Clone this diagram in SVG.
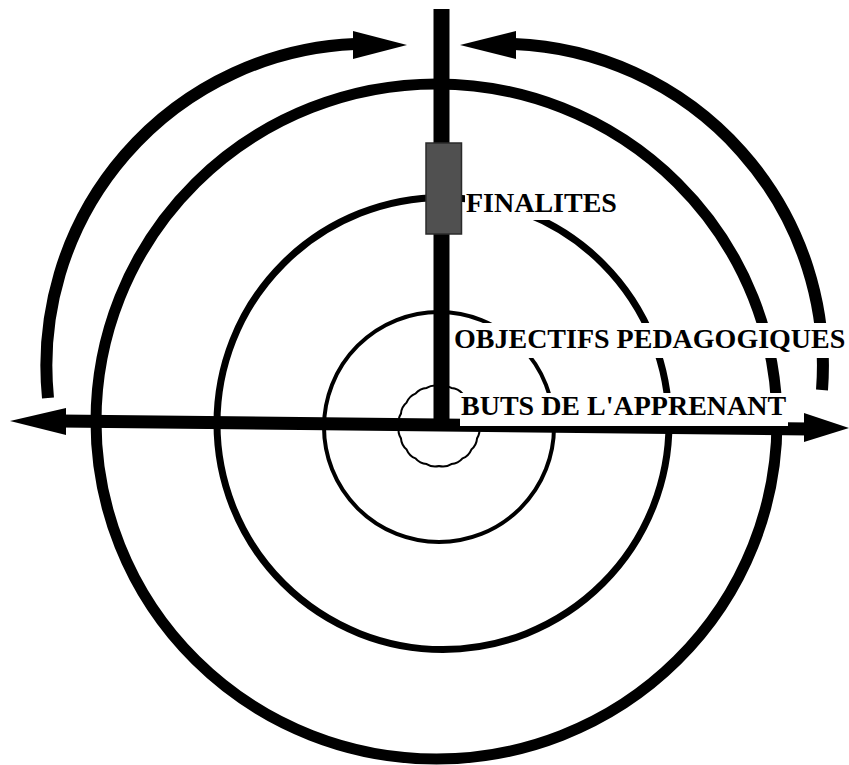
<svg xmlns="http://www.w3.org/2000/svg" width="849" height="765" viewBox="0 0 849 765">
<style>
.ring{fill:none;stroke:#000}
.shaft{fill:none;stroke:#000;stroke-width:12}
.head{fill:#000}
.lbl{font-family:"Liberation Serif","Times New Roman",serif;font-weight:bold;font-size:28px;fill:#000}
.bg{fill:#fff}
</style>
<rect width="849" height="765" fill="#fff"/>
<g id="rings">
<ellipse id="ring-outer" class="ring" cx="436.5" cy="421.5" rx="340.5" ry="337.5" stroke-width="11"/>
<circle id="ring-2" class="ring" cx="443" cy="423.5" r="226" stroke-width="7"/>
<circle id="ring-3" class="ring" cx="439" cy="427" r="115" stroke-width="4"/>
<path id="ring-inner" class="ring" stroke-width="2" d="M479 426 A16 16 0 0 1 477.04 438.36 A16 16 0 0 1 471.36 449.51 A16 16 0 0 1 462.51 458.36 A16 16 0 0 1 451.36 464.04 A16 16 0 0 1 439 466 A16 16 0 0 1 426.64 464.04 A16 16 0 0 1 415.49 458.36 A16 16 0 0 1 406.64 449.51 A16 16 0 0 1 400.96 438.36 A16 16 0 0 1 399 426 A16 16 0 0 1 400.96 413.64 A16 16 0 0 1 406.64 402.49 A16 16 0 0 1 415.49 393.64 A16 16 0 0 1 426.64 387.96 A16 16 0 0 1 439 386 A16 16 0 0 1 451.36 387.96 A16 16 0 0 1 462.51 393.64 A16 16 0 0 1 471.36 402.49 A16 16 0 0 1 477.04 413.64 A16 16 0 0 1 479 426 Z"/>
</g>
<g id="connectors">
<path class="shaft" d="M48 398 A322 322 0 0 1 355 44"/>
<polygon class="head" points="407,45 353,31 353,59"/>
<path class="shaft" d="M822 390 A322 322 0 0 0 514 44"/>
<polygon class="head" points="460,45 516,31 516,59"/>
<line x1="441.5" y1="9" x2="441.5" y2="424" stroke="#000" stroke-width="16"/>
<line x1="60" y1="421" x2="810" y2="429" stroke="#000" stroke-width="13"/>
<polygon class="head" points="10,421 66,408 66,435"/>
<polygon class="head" points="849,428 804,413 804,442"/>
</g>
<g id="finalites-box">
<rect x="426" y="143" width="35.5" height="91" fill="#505050" stroke="#2a2a2a" stroke-width="1.5"/>
</g>
<g id="label-finalites">
<rect class="bg" x="465" y="188" width="152" height="32"/>
<text class="lbl" x="466" y="212">FINALITES</text>
</g>
<g id="label-objectifs">
<rect class="bg" x="452" y="323" width="394" height="35"/>
<text class="lbl" x="454" y="348">OBJECTIFS PEDAGOGIQUES</text>
</g>
<g id="label-buts">
<rect class="bg" x="460" y="393" width="328" height="33"/>
<text class="lbl" x="461" y="415">BUTS DE L'APPRENANT</text>
</g>
</svg>
